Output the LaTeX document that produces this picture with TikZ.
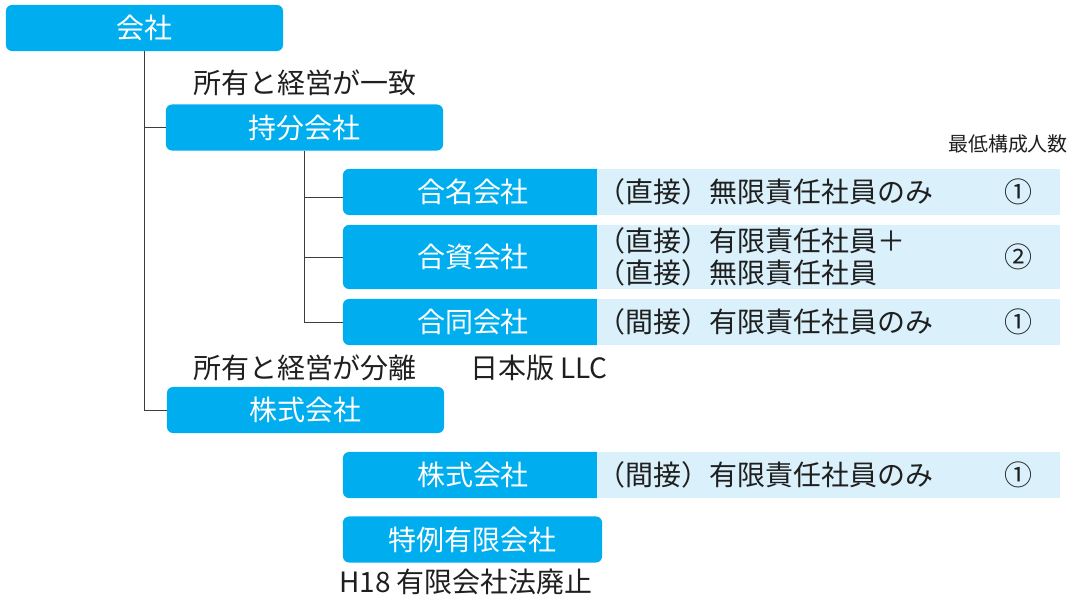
\documentclass[tikz,border=0pt]{standalone}
\usepackage{fontspec}
\setmainfont{Noto Sans CJK JP}
\usepackage{tikz}
\definecolor{boxblue}{RGB}{0,174,239}
\definecolor{bandblue}{RGB}{218,240,251}
\definecolor{linegray}{RGB}{60,60,60}

\begin{document}
\begin{tikzpicture}[x=0.025cm, y=-0.025cm,
  every node/.style={inner sep=0pt, font=\fontsize{19.9}{22.8}\selectfont, text=black!88},
  box/.style={fill=boxblue, rounded corners=4.3pt, text=white, minimum width=6.925cm, minimum height=1.15cm},
  rowbox/.style={box, minimum width=6.5cm},
  band/.style={fill=bandblue, anchor=west, minimum height=1.15cm, text width=11.575cm, align=left},
  small/.style={font=\fontsize{14.2}{16}\selectfont},
  link/.style={draw=linegray, line width=0.7pt}]
\useasboundingbox (0, 0) rectangle (1078, 597);
\node[box] (1) at (144.5, 28) {会社};
\node[box] (2) at (304.5, 127.5) {持分会社};
\node[rowbox] (3) at (473, 192) {合名会社};
\node[rowbox, minimum height=1.6cm] (4) at (473, 257) {合資会社};
\node[rowbox] (5) at (473, 322) {合同会社};
\node[box] (6) at (305.5, 410) {株式会社};
\node[rowbox] (7) at (473, 475) {株式会社};
\node[box, minimum width=6.475cm] (8) at (472.5, 539.5) {特例有限会社};
\node[band] (9) at (597, 192) {（直接）無限責任社員のみ};
\node[band, minimum height=1.6cm] (10) at (597, 257) {（直接）有限責任社員＋\\（直接）無限責任社員};
\node[band] (11) at (597, 322) {（間接）有限責任社員のみ};
\node[band] (12) at (597, 475) {（間接）有限責任社員のみ};
\node (13) at (1018, 192) {①};
\node (14) at (1018, 257) {②};
\node (15) at (1018, 322) {①};
\node (16) at (1018, 475) {①};
\node[small] (17) at (1008, 144) {最低構成人数};
\node (18) at (305, 83) {所有と経営が一致};
\node (19) at (305, 368) {所有と経営が分離};
\node (20) at (539, 368) {日本版 LLC};
\node (21) at (466, 582) {H18 有限会社法廃止};
\draw[link] (1.south) |- (2.west);
\draw[link] (1.south) |- (6.west);
\draw[link] (2.south) |- ([yshift=-0.125cm]3.west);
\draw[link] (2.south) |- (4.west);
\draw[link] (2.south) |- (5.west);
\end{tikzpicture}
\end{document}
